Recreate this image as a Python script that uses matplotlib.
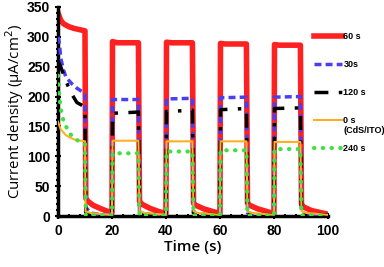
import matplotlib
matplotlib.use("Agg")
import matplotlib.pyplot as plt
from matplotlib.ticker import MultipleLocator

# 60 s (red)
t_60 = [0, 1, 2, 4, 6, 8, 10, 10.3, 11, 13, 16, 20,
        20.2, 22, 29.8, 30.2, 31, 34, 37, 40,
        40.2, 42, 49.8, 50.2, 51, 54, 57, 60,
        60.2, 62, 69.8, 70.2, 71, 74, 77, 80,
        80.2, 82, 89.8, 90.2, 91, 94, 97, 100]
y_60 = [340, 328, 322, 317, 314, 312, 310, 30, 25, 18, 12, 5,
        292, 290, 290, 25, 20, 13, 8, 4,
        291, 290, 290, 22, 18, 12, 8, 4,
        289, 288, 288, 22, 18, 12, 8, 4,
        287, 286, 286, 20, 15, 9, 6, 3]

# 30s (blue dashed)
t_30 = [0, 0.5, 1, 2, 3, 5, 7, 10, 10.3, 12, 15, 20,
        20.2, 29.8, 30.2, 35, 40,
        40.2, 49.8, 50.2, 55, 60,
        60.2, 69.8, 70.2, 75, 80,
        80.2, 89.8, 90.2, 95, 100]
y_30 = [300, 290, 265, 245, 232, 222, 214, 205, 15, 5, 3, 2,
        195, 195, 5, 2, 1,
        196, 197, 5, 2, 1,
        198, 199, 5, 2, 1,
        199, 200, 5, 2, 1]

# 120 s (black dash-dot)
t_120 = [0, 1, 3, 5, 7, 9, 10, 10.3, 15, 20,
         20.2, 29.8, 30.2, 40,
         40.2, 49.8, 50.2, 60,
         60.2, 69.8, 70.2, 80,
         80.2, 89.8, 90.2, 100]
y_120 = [260, 250, 225, 205, 190, 185, 180, 3, 2, 2,
         172, 174, 3, 2,
         175, 177, 3, 2,
         178, 180, 3, 2,
         180, 181, 3, 2]

# 0 s (CdS/ITO) (orange)
t_0 = [0, 1, 3, 6, 10, 10.2, 12, 20,
       20.2, 29.8, 30.2, 32, 40,
       40.2, 49.8, 50.2, 52, 60,
       60.2, 69.8, 70.2, 72, 80,
       80.2, 89.8, 90.2, 92, 100]
y_0 = [158, 145, 135, 128, 125, 8, 5, 2,
       126, 126, 8, 5, 2,
       125, 125, 8, 5, 2,
       125, 125, 8, 5, 2,
       124, 124, 8, 5, 2]

# 240 s (green dotted)
t_240 = [0, 0.5, 1, 2, 4, 6, 9, 10, 10.3, 20,
         20.2, 29.8, 30.2, 40,
         40.2, 49.8, 50.2, 60,
         60.2, 69.8, 70.2, 80,
         80.2, 89.8, 90.2, 100]
y_240 = [235, 200, 180, 160, 140, 130, 122, 120, 1, 1,
         105, 105, 1, 1,
         108, 108, 1, 1,
         110, 110, 1, 1,
         112, 112, 1, 1]

fig = plt.figure(figsize=(3.84, 2.67), dpi=100)
ax = fig.add_axes([0.151, 0.191, 0.703, 0.783])

ax.plot(t_60, y_60, color="#ff2020", lw=4, label="60 s", zorder=2)
ax.plot(t_30, y_30, color="#4a3ff0", lw=2.5, ls=(0, (2, 1.2)), label="30s", zorder=3)
ax.plot(t_120, y_120, color="black", lw=2.5, ls=(0, (4, 3, 1, 3)), label="120 s", zorder=4)
ax.plot(t_0, y_0, color="#ffb020", lw=1.5, label="0 s", zorder=5)
ax.plot(t_240, y_240, color="#40e040", lw=3, ls=(0, (0.1, 2)), dash_capstyle="round",
        label="240 s", zorder=6)

ax.set_xlim(0, 100)
ax.set_ylim(0, 350)
ax.xaxis.set_major_locator(MultipleLocator(20))
ax.yaxis.set_major_locator(MultipleLocator(50))
ax.xaxis.set_minor_locator(MultipleLocator(4))
ax.yaxis.set_minor_locator(MultipleLocator(10))
for s in ["top", "right"]:
    ax.spines[s].set_visible(False)
for s in ["left", "bottom"]:
    ax.spines[s].set_linewidth(2.5)
ax.tick_params(which="both", direction="inout", width=1.5)
ax.tick_params(which="major", length=4, labelsize=10)
ax.tick_params(which="minor", length=3)
for lab in ax.get_xticklabels() + ax.get_yticklabels():
    lab.set_fontweight("bold")
    lab.set_family("Liberation Sans")

ax.set_xlabel("Time (s)", fontsize=11, family="Open Sans", fontweight="semibold", labelpad=2)
ax.set_ylabel("Current density (μA/cm$^2$)", fontsize=10.8, family="Open Sans", labelpad=1)

leg = ax.legend(loc="upper left", bbox_to_anchor=(0.92, 0.92), frameon=False,
                prop={"family": "Liberation Sans", "weight": "bold", "size": 6.5},
                handlelength=3.0, handletextpad=0.2, labelspacing=2.12)

# second line of the "0 s" entry, placed under its text
fig.canvas.draw()
bb = leg.get_texts()[3].get_window_extent()
fig.text(bb.x0 / fig.bbox.width, (bb.y0 - 1) / fig.bbox.height, "(CdS/ITO)",
         ha="left", va="top", family="Liberation Sans", weight="bold", size=6.5)

fig.savefig("out.png", dpi=100)
